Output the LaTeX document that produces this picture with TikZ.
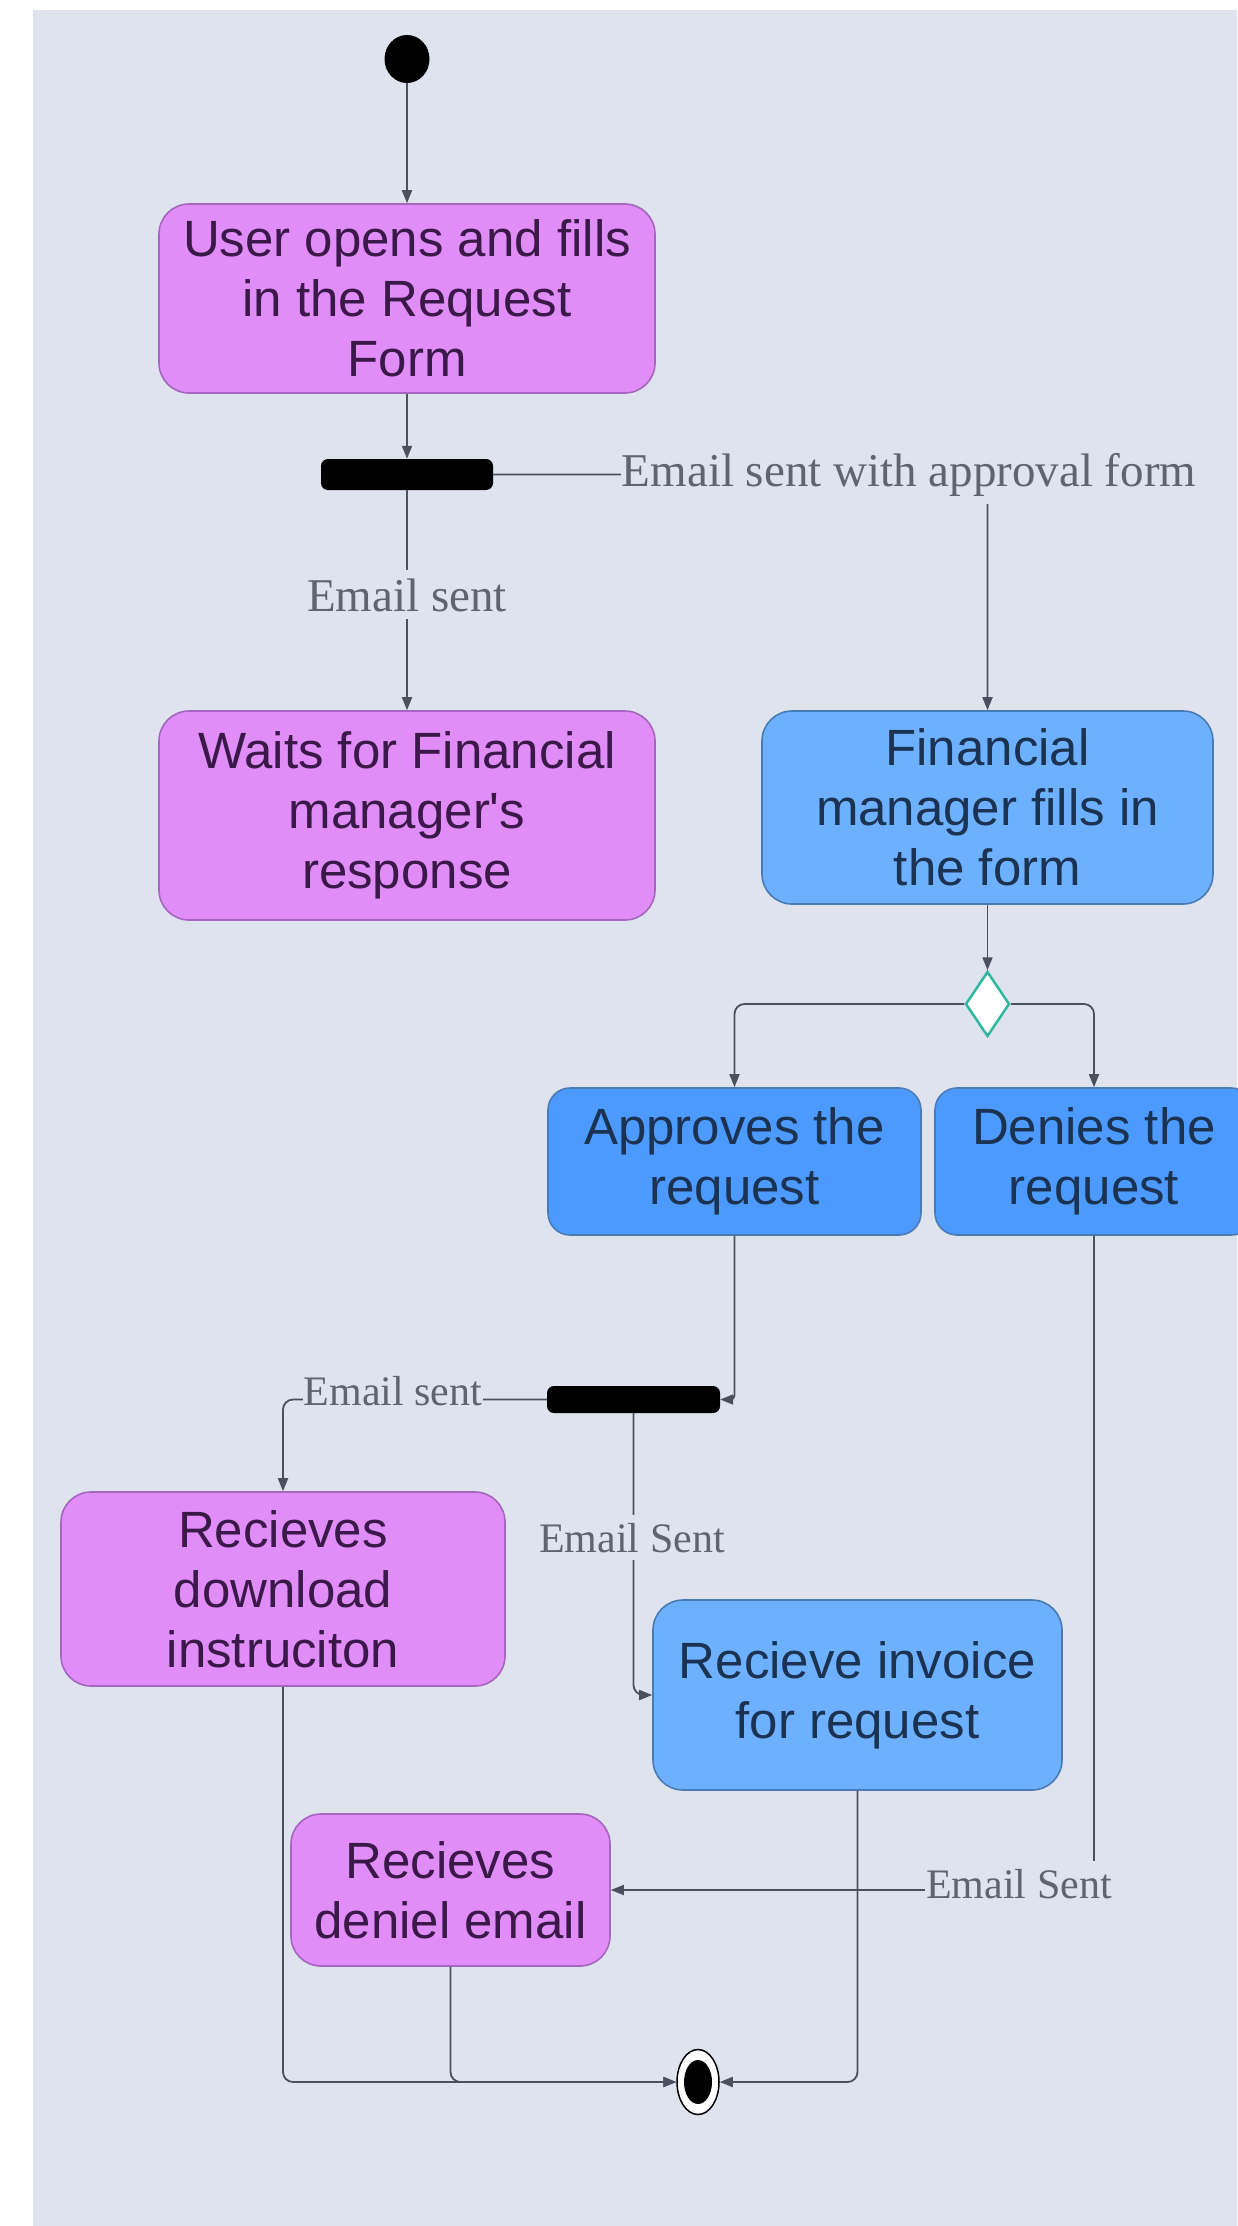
\documentclass[tikz,border=0pt]{standalone}
\usepackage{fontspec}
\setmainfont{Liberation Sans}
\newfontfamily\labfont{Liberation Serif}
\usetikzlibrary{shapes.geometric,arrows.meta}
\definecolor{bg}{HTML}{DEE3EE}
\definecolor{pinkfill}{HTML}{E08DF8}
\definecolor{pinkdraw}{HTML}{A566BE}
\definecolor{pinktext}{HTML}{3A1848}
\definecolor{bluefill}{HTML}{6DB0FF}
\definecolor{bluedark}{HTML}{4D9AFF}
\definecolor{bluedraw}{HTML}{4B7BB5}
\definecolor{bluetext}{HTML}{1B3250}
\definecolor{linecol}{HTML}{4A505E}
\definecolor{labcol}{HTML}{5E6470}
\definecolor{tealc}{HTML}{2DB89E}
\begin{document}
\begin{tikzpicture}[x=1pt,y=-1pt,
  box/.style={rounded corners=30pt, line width=1.6pt, inner sep=0pt, align=center,
    font=\fontsize{51}{60}\selectfont},
  pinkbox/.style={box, fill=pinkfill, draw=pinkdraw, text=pinktext},
  bluebox/.style={box, fill=bluefill, draw=bluedraw, text=bluetext},
  darkbluebox/.style={box, fill=bluedark, draw=bluedraw, text=bluetext, rounded corners=22pt},
  bar/.style={fill=black, rounded corners=7pt, inner sep=0pt},
  flow/.style={draw=linecol, line width=1.8pt, rounded corners=10pt,
    -{Triangle[length=13pt,width=10pt]}},
  lab/.style={fill=bg, text=labcol, inner xsep=1pt, inner ysep=8pt, anchor=base,
    font=\labfont\fontsize{42}{48}\selectfont},
  biglab/.style={lab, font=\labfont\fontsize{47}{52}\selectfont},
]
\fill[white] (0,0) rectangle (1237,2226);
\fill[bg] (33,10) rectangle (1237,2226);
\useasboundingbox (0,0) rectangle (1237,2226);

% nodes
\node[ellipse, fill=black, minimum width=45pt, minimum height=48pt, inner sep=0pt] (start) at (407,59) {};
\node[pinkbox, minimum width=496pt, minimum height=189pt] (b1) at (407,298.5) {User opens and fills\\in the Request\\Form};
\node[bar, minimum width=172pt, minimum height=31pt] (f1) at (407,474.5) {};
\node[pinkbox, minimum width=496pt, minimum height=209pt] (b2) at (407,815.5) {Waits for Financial\\manager\textquotesingle s\\response};
\node[bluebox, minimum width=451pt, minimum height=193pt] (fm) at (987.5,807.5) {Financial\\manager fills in\\the form};
\node[diamond, draw=tealc, fill=white, line width=2.5pt, minimum width=44pt, minimum height=65pt, inner sep=0pt] (dec) at (987.5,1004) {};
\node[darkbluebox, minimum width=373pt, minimum height=147pt] (ap) at (734.5,1161.5) {Approves the\\request};
\node[darkbluebox, minimum width=318pt, minimum height=147pt] (dn) at (1094,1161.5) {Denies the\\request};
\node[bar, minimum width=173pt, minimum height=27pt] (f2) at (633.5,1399.5) {};
\node[pinkbox, minimum width=444pt, minimum height=194pt] (dl) at (283,1589) {Recieves\\download\\instruciton};
\node[bluebox, minimum width=409pt, minimum height=190pt] (inv) at (857.5,1695) {Recieve invoice\\for request};
\node[pinkbox, minimum width=319pt, minimum height=152pt] (dnl) at (450.5,1890) {Recieves\\deniel email};
\node[ellipse, draw=black, fill=white, line width=1.5pt, minimum width=42pt, minimum height=65pt, inner sep=0pt] (fin) at (698,2082) {};
\node[ellipse, fill=black, minimum width=28pt, minimum height=44pt, inner sep=0pt] (finin) at (698,2082) {};

% connectors
\draw[flow] (start.south) -- (b1.north);
\draw[flow] (b1.south) -- (f1.north);
\draw[flow] (f1.south) -- (b2.north);
\draw[flow] (f1.east) -| (fm.north);
\draw[flow] (fm.south) -- (dec.north);
\draw[flow] (dec.west) -| (ap.north);
\draw[flow] (dec.east) -| (dn.north);
\draw[flow, rounded corners=4pt] (ap.south) |- (f2.east);
\draw[flow] (f2.west) -| (dl.north);
\draw[flow] (f2.south) |- (inv.west);
\draw[flow] (dn.south) |- (dnl.east);
\draw[flow] (dl.south) |- (fin.west);
\draw[flow] (dnl.south) |- (fin.west);
\draw[flow] (inv.south) |- (fin.east);

% labels
\node[biglab] (l1) at (909,486) {Email sent with approval form};
\node[biglab] (l2) at (407,611) {Email sent};
\node[lab] (l3) at (393,1405) {Email sent};
\node[lab] (l4) at (632,1552) {Email Sent};
\node[lab] (l5) at (1019,1898) {Email Sent};
\end{tikzpicture}
\end{document}
